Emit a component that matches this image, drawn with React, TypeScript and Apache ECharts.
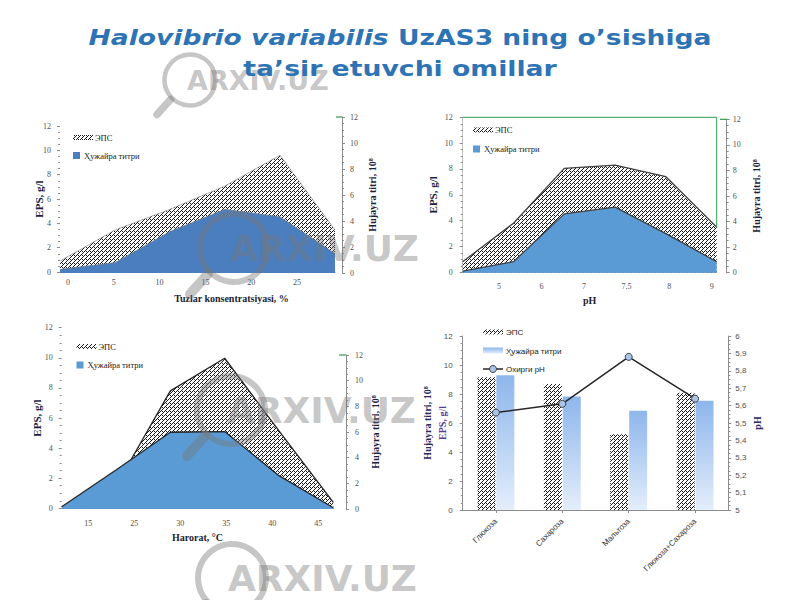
import React, { useEffect, useRef } from "react";
import * as echarts from "echarts";

// ---------- Data ----------
const saltLabels = ["0", "5", "10", "15", "20", "25"];
const saltEps = [0.9, 3.45, 5.15, 7.07, 9.6, 3.45];
const saltCells = [0.28, 0.8, 3.2, 4.9, 4.33, 1.5];

const phLabels = ["5", "6", "7", "7,5", "8", "9"];
const phEps = [0.82, 3.8, 8.05, 8.3, 7.4, 3.5];
const phCells = [0.13, 0.86, 4.6, 5.13, 3.06, 0.86];

const tempLabels = ["15", "25", "30", "35", "40", "45"];
const tempEps = [0.1, 1.48, 7.8, 9.97, 5.14, 0.4];
const tempCells = [0.18, 3.04, 5.98, 6.03, 2.6, 0.1];

const carbonLabels = ["Глюкоза", "Сахароза", "Мальтоза", "Глюкоза+Сахароза"];
const carbonEps = [9.15, 8.69, 5.22, 8.09];
const carbonCells = [9.3, 7.82, 6.85, 7.54];
const carbonPh = [5.56, 5.61, 5.88, 5.64];

const legendEps = "ЭПС";
const legendCells = "Ҳужайра титри";
const legendPh = "Охирги pH";
const epsAxisName = "EPS, g/l";
const cellsAxisName = "Hujayra titri, 10⁸";
const titleLine1Italic = "Halovibrio variabilis";
const titleLine1Rest = "UzAS3 ning o’sishiga";
const titleLine2 = "ta’sir etuvchi omillar";

// ---------- Styles ----------
const SERIF = '"Liberation Serif", "DejaVu Serif", serif';
const SANS = '"Liberation Sans", "DejaVu Sans", sans-serif';
const TITLE_FONT = '"DejaVu Sans", sans-serif';
const TITLE_BLUE = "#2E74B5";
const AXIS_GRAY = "#8c8c8c";
const LABEL_GRAY = "#505050";

function makeHatch(): HTMLCanvasElement {
  const c = document.createElement("canvas");
  c.width = 4;
  c.height = 4;
  const ctx = c.getContext("2d")!;
  ctx.fillStyle = "#ffffff";
  ctx.fillRect(0, 0, 4, 4);
  ctx.fillStyle = "#1a1a1a";
  [[3, 0], [2, 1], [1, 2], [0, 3], [2, 3]].forEach(([x, y]) => ctx.fillRect(x, y, 1, 1));
  return c;
}

type AreaCfg = {
  labels: string[];
  eps: number[];
  cells: number[];
  x0: number;
  x1: number;
  lTop: number;
  lBot: number;
  rTop: number;
  rBot: number;
  rAxisX: number;
  idx0: number;
  step: number;
  labelMargin: number;
  xName: string;
  xNameGap: number;
  xNameShift: number;
  lLabelMargin: number;
  rLabelMargin: number;
  lNameGap: number;
  rNameGap: number;
  blue: string;
  lineColor: string;
  lineWidth: number;
  leftLine: boolean;
};

function addArea(opt: any, cfg: AreaCfg, pattern: any) {
  const gA = opt.grid.length;
  const w = cfg.x1 - cfg.x0;
  opt.grid.push({ left: cfg.x0, width: w, top: cfg.lTop, height: cfg.lBot - cfg.lTop });
  opt.grid.push({ left: cfg.x0, width: w, top: cfg.rTop, height: cfg.rBot - cfg.rTop });

  const xA = opt.xAxis.length;
  opt.xAxis.push({ type: "category", gridIndex: gA, data: cfg.labels, boundaryGap: false, show: false });
  const idx = cfg.labels.map((_, i) => i);
  opt.xAxis.push({
    type: "value",
    gridIndex: gA,
    position: "bottom",
    min: (cfg.x0 - cfg.idx0) / cfg.step,
    max: (cfg.x1 - cfg.idx0) / cfg.step,
    axisLine: { show: true, onZero: false, lineStyle: { color: AXIS_GRAY, width: 1 } },
    axisTick: { show: false },
    splitLine: { show: false },
    axisLabel: {
      customValues: idx,
      formatter: (v: number) => cfg.labels[Math.round(v)] ?? "",
      margin: cfg.labelMargin,
      fontSize: 8,
      color: LABEL_GRAY,
      fontFamily: SERIF,
    },
    name: cfg.xName,
    nameLocation: "middle",
    nameGap: cfg.xNameGap,
    nameMoveOverlap: false,
    nameTextStyle: {
      fontFamily: SERIF,
      fontWeight: "bold",
      fontSize: 10,
      color: "#1e1e2e",
      padding: cfg.xNameShift >= 0 ? [0, 0, 0, cfg.xNameShift * 2] : [0, -cfg.xNameShift * 2, 0, 0],
    },
  });
  const xB = opt.xAxis.length;
  opt.xAxis.push({ type: "category", gridIndex: gA + 1, data: cfg.labels, boundaryGap: false, show: false });

  const yL = opt.yAxis.length;
  const common = {
    type: "value",
    min: 0,
    max: 12,
    interval: 2,
    splitLine: { show: false },
    axisTick: { show: true, length: 3, lineStyle: { color: AXIS_GRAY } },
    minorTick: { show: true, splitNumber: 4, length: 2, lineStyle: { color: AXIS_GRAY } },
  };
  opt.yAxis.push({
    ...common,
    gridIndex: gA,
    position: "left",
    axisLine: { show: cfg.leftLine, onZero: false, lineStyle: { color: "#bfbfbf" } },
    axisLabel: { margin: cfg.lLabelMargin, fontSize: 8, color: LABEL_GRAY, fontFamily: SERIF },
    name: epsAxisName,
    nameLocation: "middle",
    nameRotate: 90,
    nameGap: cfg.lNameGap,
    nameMoveOverlap: false,
    nameTextStyle: { fontFamily: SERIF, fontWeight: "bold", fontSize: 11, color: "#1e1e3e" },
  });
  opt.yAxis.push({
    ...common,
    gridIndex: gA + 1,
    position: "right",
    offset: cfg.rAxisX - cfg.x1,
    axisLine: { show: true, onZero: false, lineStyle: { color: AXIS_GRAY } },
    axisLabel: { margin: cfg.rLabelMargin, fontSize: 8, color: LABEL_GRAY, fontFamily: SERIF },
    name: cellsAxisName,
    nameLocation: "middle",
    nameRotate: 90,
    nameGap: cfg.rNameGap,
    nameMoveOverlap: false,
    nameTextStyle: { fontFamily: SERIF, fontWeight: "bold", fontSize: 10, color: "#1e1e3e" },
  });

  opt.series.push({
    type: "line",
    name: legendEps,
    xAxisIndex: xA,
    yAxisIndex: yL,
    data: cfg.eps,
    symbol: "none",
    z: 2,
    lineStyle: { color: cfg.lineColor, width: cfg.lineWidth },
    areaStyle: { color: pattern, opacity: 1 },
  });
  opt.series.push({
    type: "line",
    name: legendCells,
    xAxisIndex: xB,
    yAxisIndex: yL + 1,
    data: cfg.cells,
    symbol: "none",
    z: 3,
    lineStyle: { color: cfg.lineColor, width: cfg.lineWidth },
    areaStyle: { color: cfg.blue, opacity: 1 },
  });
}

function legendBlock(x: number, y1: number, y2: number, pattern: any, blue: string, font: string) {
  return [
    { type: "rect", z: 20, shape: { x, y: y1 - 2.5, width: 20, height: 5 }, style: { fill: pattern } },
    { type: "text", z: 20, x: x + 22, y: y1, style: { text: legendEps, font: `8.5px ${font}`, fill: "#222", verticalAlign: "middle" } },
    { type: "rect", z: 20, shape: { x: x, y: y2 - 3.5, width: 7, height: 7 }, style: { fill: blue } },
    { type: "text", z: 20, x: x + 11, y: y2, style: { text: legendCells, font: `8.5px ${font}`, fill: "#222", verticalAlign: "middle" } },
  ];
}

function watermark(cx: number, cy: number, s: number) {
  const col = "rgba(120,120,120,0.42)";
  return [
    { type: "circle", z: 15, silent: true, shape: { cx, cy, r: 34 * s }, style: { fill: "none", stroke: col, lineWidth: 6 * s } },
    { type: "line", z: 15, silent: true, shape: { x1: cx - 26 * s, y1: cy + 26 * s, x2: cx - 44 * s, y2: cy + 46 * s }, style: { stroke: col, lineWidth: 10 * s, lineCap: "round" } },
    { type: "text", z: 15, silent: true, x: cx - 4 * s, y: cy, style: { text: "ARXIV.UZ", font: `bold ${Math.round(36 * s)}px "DejaVu Sans", sans-serif`, fill: col, verticalAlign: "middle" } },
  ];
}

export default function App() {
  const ref = useRef<HTMLDivElement>(null);
  useEffect(() => {
    document.body.style.margin = "0";
    if (!ref.current) return;
    const chart = echarts.init(ref.current, undefined, { renderer: "svg" });
    const hatch = { image: makeHatch(), repeat: "repeat" };

    const opt: any = {
      animation: false,
      backgroundColor: "#ffffff",
      grid: [],
      xAxis: [],
      yAxis: [],
      series: [],
      graphic: [],
    };

    // Chart 1: salt concentration
    addArea(opt, {
      labels: saltLabels, eps: saltEps, cells: saltCells,
      x0: 60, x1: 335, lTop: 126, lBot: 272, rTop: 117, rBot: 273, rAxisX: 342,
      idx0: 68, step: 45.8, labelMargin: 6,
      xName: "Tuzlar konsentratsiyasi, %", xNameGap: 21, xNameShift: 34,
      lLabelMargin: 9, rLabelMargin: 8, lNameGap: 16, rNameGap: 25,
      blue: "#4A7EBF", lineColor: "#7f7f7f", lineWidth: 0.6, leftLine: false,
    }, hatch);

    // Chart 2: pH
    addArea(opt, {
      labels: phLabels, eps: phEps, cells: phCells,
      x0: 462.7, x1: 716.7, lTop: 117.3, lBot: 272.3, rTop: 119.3, rBot: 272.7, rAxisX: 726.7,
      idx0: 499, step: 42.54, labelMargin: 10,
      xName: "pH", xNameGap: 23, xNameShift: 0,
      lLabelMargin: 10, rLabelMargin: 6, lNameGap: 24, rNameGap: 25,
      blue: "#5B9BD5", lineColor: "#404040", lineWidth: 1.3, leftLine: true,
    }, hatch);

    // Chart 3: temperature
    addArea(opt, {
      labels: tempLabels, eps: tempEps, cells: tempCells,
      x0: 61.7, x1: 333.3, lTop: 327.7, lBot: 508.3, rTop: 355, rBot: 509, rAxisX: 346,
      idx0: 88.3, step: 46, labelMargin: 11,
      xName: "Harorat, °C", xNameGap: 24, xNameShift: 0,
      lLabelMargin: 9, rLabelMargin: 9, lNameGap: 19, rNameGap: 24,
      blue: "#5B9BD5", lineColor: "#262626", lineWidth: 1.3, leftLine: false,
    }, hatch);

    // Chart 4: carbon sources (bars + pH line)
    const g4 = opt.grid.length;
    opt.grid.push({ left: 462.7, width: 265.6, top: 336, height: 174 });
    const x4 = opt.xAxis.length;
    opt.xAxis.push({
      type: "category",
      gridIndex: g4,
      data: carbonLabels,
      axisLine: { show: true, onZero: false, lineStyle: { color: AXIS_GRAY } },
      axisTick: { show: true, alignWithLabel: true, length: 3, lineStyle: { color: AXIS_GRAY } },
      axisLabel: { rotate: 45, fontSize: 8, color: "#333", fontFamily: SANS, margin: 10 },
    });
    const y4 = opt.yAxis.length;
    opt.yAxis.push({
      type: "value",
      gridIndex: g4,
      position: "left",
      min: 0,
      max: 12,
      interval: 2,
      splitLine: { show: false },
      axisLine: { show: true, onZero: false, lineStyle: { color: AXIS_GRAY } },
      axisTick: { show: true, length: 3, lineStyle: { color: AXIS_GRAY } },
      minorTick: { show: true, splitNumber: 4, length: 2, lineStyle: { color: AXIS_GRAY } },
      axisLabel: { margin: 10, fontSize: 8, color: LABEL_GRAY, fontFamily: SANS },
      name: "{a|" + cellsAxisName + "}\n{b|" + epsAxisName + "}",
      nameLocation: "middle",
      nameRotate: 90,
      nameGap: 13,
      nameMoveOverlap: false,
      nameTextStyle: {
        rich: {
          a: { fontFamily: SERIF, fontWeight: "bold", fontSize: 10, color: "#2a2a5a", lineHeight: 15 },
          b: { fontFamily: SERIF, fontWeight: "bold", fontSize: 10, color: "#5a3d9a", lineHeight: 15 },
        },
      },
    });
    opt.yAxis.push({
      type: "value",
      gridIndex: g4,
      position: "right",
      min: 5,
      max: 6,
      interval: 0.1,
      splitLine: { show: false },
      axisLine: { show: true, onZero: false, lineStyle: { color: AXIS_GRAY } },
      axisTick: { show: true, length: 3, lineStyle: { color: AXIS_GRAY } },
      minorTick: { show: true, splitNumber: 4, length: 2, lineStyle: { color: AXIS_GRAY } },
      axisLabel: {
        margin: 7,
        fontSize: 8,
        color: LABEL_GRAY,
        fontFamily: SANS,
        formatter: (v: number) => String(Math.round(v * 10) / 10).replace(".", ","),
      },
      name: "pH",
      nameLocation: "middle",
      nameRotate: 90,
      nameGap: 24,
      nameMoveOverlap: false,
      nameTextStyle: { fontFamily: SERIF, fontWeight: "bold", fontSize: 10, color: "#2a2a5a" },
    });
    const barGrad = new echarts.graphic.LinearGradient(0, 0, 0, 1, [
      { offset: 0, color: "#8DB6EC" },
      { offset: 1, color: "#E4EEFB" },
    ]);
    opt.series.push({
      type: "bar",
      name: legendEps,
      xAxisIndex: x4,
      yAxisIndex: y4,
      data: carbonEps,
      barWidth: 18,
      barGap: "5%",
      itemStyle: { color: hatch },
    });
    opt.series.push({
      type: "bar",
      name: legendCells,
      xAxisIndex: x4,
      yAxisIndex: y4,
      data: carbonCells,
      barWidth: 18,
      barGap: "5%",
      itemStyle: { color: barGrad },
    });
    opt.series.push({
      type: "line",
      name: legendPh,
      xAxisIndex: x4,
      yAxisIndex: y4 + 1,
      data: carbonPh,
      z: 5,
      symbol: "circle",
      symbolSize: 7,
      lineStyle: { color: "#262626", width: 1.5 },
      itemStyle: { color: "#A9C4EB", borderColor: "#404040", borderWidth: 1 },
    });

    // Title, legends & decorations
    const green = "#2E9E4F";
    const titleRich = {
      i: { fontStyle: "italic", fontWeight: "bold", fontSize: 21, fontFamily: TITLE_FONT, fill: TITLE_BLUE },
      b: { fontWeight: "bold", fontSize: 21, fontFamily: TITLE_FONT, fill: TITLE_BLUE },
    };
    opt.graphic = [
      // watermarks (behind title)
      ...watermark(190, 80, 0.75),
      ...watermark(234, 248, 1),
      ...watermark(231, 410, 1),
      ...watermark(232, 578, 1),
      {
        type: "text", z: 30, x: 400, y: 38, scaleX: 1.265,
        style: { text: "{i|" + titleLine1Italic + "}{b| " + titleLine1Rest + "}", rich: titleRich, align: "center", verticalAlign: "middle", fill: TITLE_BLUE },
      },
      {
        type: "text", z: 30, x: 400, y: 69, scaleX: 1.27,
        style: { text: titleLine2, font: `bold 21px ${TITLE_FONT}`, align: "center", verticalAlign: "middle", fill: TITLE_BLUE },
      },
      ...legendBlock(73, 137.5, 155.5, hatch, "#4A7EBF", SERIF),
      ...legendBlock(473, 130, 149, hatch, "#5B9BD5", SERIF),
      ...legendBlock(76.5, 346.5, 365, hatch, "#5B9BD5", SERIF),
      // chart 4 legend
      { type: "rect", z: 20, shape: { x: 483, y: 329.5, width: 20, height: 5 }, style: { fill: hatch } },
      { type: "text", z: 20, x: 506, y: 332, style: { text: legendEps, font: `8px ${SANS}`, fill: "#222", verticalAlign: "middle" } },
      { type: "rect", z: 20, shape: { x: 483, y: 347.5, width: 20, height: 6 }, style: { fill: barGrad } },
      { type: "text", z: 20, x: 506, y: 351, style: { text: legendCells, font: `8px ${SANS}`, fill: "#222", verticalAlign: "middle" } },
      { type: "line", z: 20, shape: { x1: 483, y1: 369, x2: 503, y2: 369 }, style: { stroke: "#262626", lineWidth: 1.5 } },
      { type: "circle", z: 21, shape: { cx: 493, cy: 369, r: 3.5 }, style: { fill: "#A9C4EB", stroke: "#404040", lineWidth: 1 } },
      { type: "text", z: 20, x: 506, y: 369, style: { text: legendPh, font: `8px ${SANS}`, fill: "#222", verticalAlign: "middle" } },
      // green frame pieces
      { type: "polyline", z: 20, shape: { points: [[462.7, 117.3], [716.7, 117.3], [716.7, 227.3]] }, style: { stroke: green, lineWidth: 1, fill: "none" } },
      { type: "line", z: 20, shape: { x1: 720, y1: 119.3, x2: 727, y2: 119.3 }, style: { stroke: green, lineWidth: 1.2 } },
      { type: "line", z: 20, shape: { x1: 336, y1: 117, x2: 342, y2: 117 }, style: { stroke: green, lineWidth: 1.2 } },
      { type: "line", z: 20, shape: { x1: 339, y1: 355, x2: 346, y2: 355 }, style: { stroke: green, lineWidth: 1.2 } },
    ];

    chart.setOption(opt);
    return () => chart.dispose();
  }, []);
  return <div ref={ref} style={{ width: 800, height: 600 }} />;
}
